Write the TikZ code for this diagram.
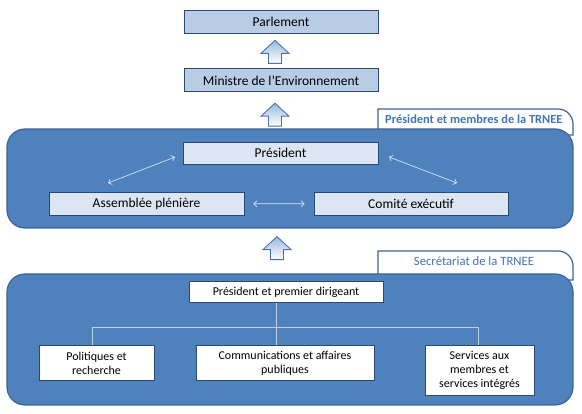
\documentclass[tikz,border=0pt]{standalone}
\usepackage{fontspec}
\setmainfont{Carlito}
\usetikzlibrary{arrows.meta,
                    calc,
                    positioning}
\definecolor{panelblue}{HTML}{4F81BD}
\definecolor{panelline}{HTML}{3C6496}
\definecolor{boxline}{HTML}{2A4A73}
\definecolor{topfill}{HTML}{B8CCE5}
\definecolor{midfill}{HTML}{DCE6F2}
\definecolor{tabtext}{HTML}{4375B6}
\definecolor{arrowline}{HTML}{4A72AA}
\definecolor{arrowtop}{HTML}{9CB8DD}
\definecolor{arrowlight}{HTML}{D6E2F0}
\definecolor{treeline}{HTML}{BFD1E8}

\begin{document}
\begin{tikzpicture}[x=1pt, y=1pt,
node distance= 35pt and 70pt,
     base/.style = {draw=boxline, line width=0.8pt, inner sep=1pt, align=center},
   topbox/.style = {base, fill=topfill, minimum width=194pt, minimum height=23pt,
                    font=\fontsize{13.5}{15}\selectfont},
   midbox/.style = {base, fill=midfill, minimum width=195pt, minimum height=23pt,
                    font=\fontsize{13.5}{15}\selectfont},
   lowbox/.style = {base, fill=white, anchor=north,
                    font=\fontsize{12}{14}\selectfont},
    panel/.style = {draw=panelline, line width=1.2pt, fill=panelblue,
                    rounded corners=18pt, minimum width=566pt},
      tab/.style = {draw=panelline, line width=1.2pt, fill=white},
   tablbl/.style = {text=tabtext, inner sep=2pt},
      dbl/.style = {{Straight Barb[length=3pt,width=6pt]}-{Straight Barb[length=3pt,width=6pt]},
                    draw=arrowlight, line width=0.7pt},
     tree/.style = {draw=treeline, line width=0.9pt},
  uparrow/.pic   = {\path[draw=arrowline, line width=0.9pt, top color=arrowtop, bottom color=white]
                    (0,0) -- (14,-13) -- (6.5,-13) -- (6.5,-23) -- (-6.5,-23)
                    -- (-6.5,-13) -- (-14,-13) -- cycle;}
                    ]
\useasboundingbox (0,0) rectangle (582,-414);
 % tabs
\path[tab] (378,-135) -- (378,-109) -- (558,-109) arc[start angle=90, end angle=0, radius=15]
           -- (573,-135) -- cycle;
\path[tab] (378,-280) -- (378,-251) -- (558,-251) arc[start angle=90, end angle=0, radius=15]
           -- (573,-280) -- cycle;
\node (tab1) [tablbl, anchor=west, font=\fontsize{12.4}{14}\selectfont\bfseries]
      at (383,-119) {Président et membres de la TRNEE};
\node (tab2) [tablbl, font=\fontsize{12.7}{14}\selectfont] at (474,-261.5) {Secrétariat de la TRNEE};
 % panels
\node (pnl1) [panel, minimum height=99pt]  at (290,-178.5) {};
\node (pnl2) [panel, minimum height=131pt] at (290,-339.5) {};
 % main
\node (parl) [topbox] at (281,-21.5) {Parlement};
\node (mini) [topbox, below=35pt of parl] {Ministre de l’Environnement};
\node (pres) [midbox, minimum height=22pt] at (280.5,-153) {Président};
\node (asse) [midbox] at (146.5,-204) {Assemblée plénière};
\node (comi) [midbox, minimum width=194pt] at (411,-203.5) {Comité exécutif};
 % secretariat
\node (pdg)  [lowbox, minimum width=194pt, minimum height=21pt] at (286,-281) {Président et premier dirigeant};
\node (poli) [lowbox, minimum width=115pt, minimum height=35pt] at (96.5,-345) {Politiques et\\recherche};
\node (comm) [lowbox, minimum width=178pt, minimum height=35pt] at (285,-345) {Communications et affaires\\publiques};
\node (serv) [lowbox, minimum width=109pt, minimum height=50pt] at (479.5,-345) {Services aux\\membres et\\services intégrés};
 % block arrows
\pic at ($(parl.south)+(-6,-7)$)  {uparrow};
\pic at ($(mini.south)+(-6,-11)$) {uparrow};
\pic at ($(pnl1.south)+(-13,-8)$) {uparrow};
 % coordinates
\coordinate (pa) at (108,-183);
\coordinate (pb) at (175,-157);
\coordinate (pc) at (389,-157);
\coordinate (pd) at (457,-183);
\coordinate (bl) at (92,-327);
\coordinate (bm) at (276,-327);
\coordinate (br) at (478,-327);

\draw[dbl] (pa) -- (pb);
\draw[dbl] (pc) -- (pd);
\draw[dbl, shorten <=9pt, shorten >=9pt] (asse) -- (comi);
%
\draw[tree] (bm |- pdg.south) -- (bm |- comm.north);
\draw[tree] (bl |- poli.north) -- (bl) -- (br) -- (br |- serv.north);
\end{tikzpicture}
\end{document}
